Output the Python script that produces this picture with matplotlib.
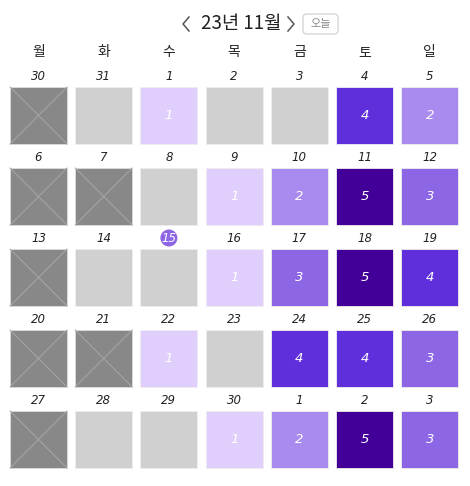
import matplotlib
matplotlib.use('Agg')
import matplotlib.pyplot as plt
from matplotlib.patches import Rectangle, Circle, FancyBboxPatch

plt.rcParams['font.family'] = ['Noto Sans CJK KR', 'DejaVu Sans']

# calendar data
title = '23년 11월'
weekdays = ['월', '화', '수', '목', '금', '토', '일']
dates = [
    [30, 31, 1, 2, 3, 4, 5],
    [6, 7, 8, 9, 10, 11, 12],
    [13, 14, 15, 16, 17, 18, 19],
    [20, 21, 22, 23, 24, 25, 26],
    [27, 28, 29, 30, 1, 2, 3],
]
# -1 = blocked (X), 0 = empty, 1..5 = level
levels = [
    [-1, 0, 1, 0, 0, 4, 2],
    [-1, -1, 0, 1, 2, 5, 3],
    [-1, 0, 0, 1, 3, 5, 4],
    [-1, -1, 1, 0, 4, 4, 3],
    [-1, 0, 0, 1, 2, 5, 3],
]
today = (2, 2)

level_colors = {0: '#d0d0d0', 1: '#e0cffd', 2: '#a98bef', 3: '#8d66e6',
                4: '#5f2fdb', 5: '#420099'}
blocked_color = '#888888'

W, H = 470, 486
fig = plt.figure(figsize=(W / 100, H / 100), dpi=100)
ax = fig.add_axes([0, 0, 1, 1])
ax.set_xlim(0, W)
ax.set_ylim(H, 0)
ax.axis('off')

x0, pitch_x, cw = 10, 65.2, 57
y0, pitch_y, ch = 87, 81, 57

# header: prev / next chevrons, title, "today" button
ty = 24
ax.plot([189, 183, 189], [ty - 7, ty, ty + 7], color='#555555', lw=1.1)
ax.plot([288, 294, 288], [ty - 7, ty, ty + 7], color='#555555', lw=1.1)
ax.text(241, ty, title, ha='center', va='center', fontsize=13.5, color='#222222')
ax.add_patch(FancyBboxPatch((303, 14), 35, 20, boxstyle='round,pad=0,rounding_size=4',
                            fc='white', ec='#cccccc', lw=0.8))
ax.text(320.5, ty, '오늘', ha='center', va='center', fontsize=8, color='#888888')

for j, wd in enumerate(weekdays):
    ax.text(x0 + j * pitch_x + cw / 2, 52, wd, ha='center', va='center',
            fontsize=10, color='#222222')

for i, row in enumerate(dates):
    for j, d in enumerate(row):
        cx = x0 + j * pitch_x
        cy = y0 + i * pitch_y
        lv = levels[i][j]
        xc = cx + cw / 2
        if (i, j) == today:
            ax.add_patch(Circle((xc, cy - 11), 8.5, fc='#8d66e6', ec='none'))
            ax.text(xc, cy - 11, str(d), ha='center', va='center', fontsize=8.5,
                    style='italic', color='white', family='DejaVu Sans')
        else:
            ax.text(xc, cy - 11, str(d), ha='center', va='center', fontsize=8.5,
                    style='italic', color='#222222', family='DejaVu Sans')
        if lv < 0:
            ax.add_patch(Rectangle((cx, cy), cw, ch, fc=blocked_color, ec='#dddddd', lw=0.6))
            ax.plot([cx, cx + cw], [cy, cy + ch], color='#a8a8a8', lw=0.7)
            ax.plot([cx, cx + cw], [cy + ch, cy], color='#a8a8a8', lw=0.7)
        else:
            ax.add_patch(Rectangle((cx, cy), cw, ch, fc=level_colors[lv], ec='#eeeeee', lw=0.6))
            if lv > 0:
                ax.text(xc, cy + ch / 2, str(lv), ha='center', va='center', fontsize=9.5,
                        style='italic', color='white', family='DejaVu Sans')

fig.savefig('out.png', dpi=100)
